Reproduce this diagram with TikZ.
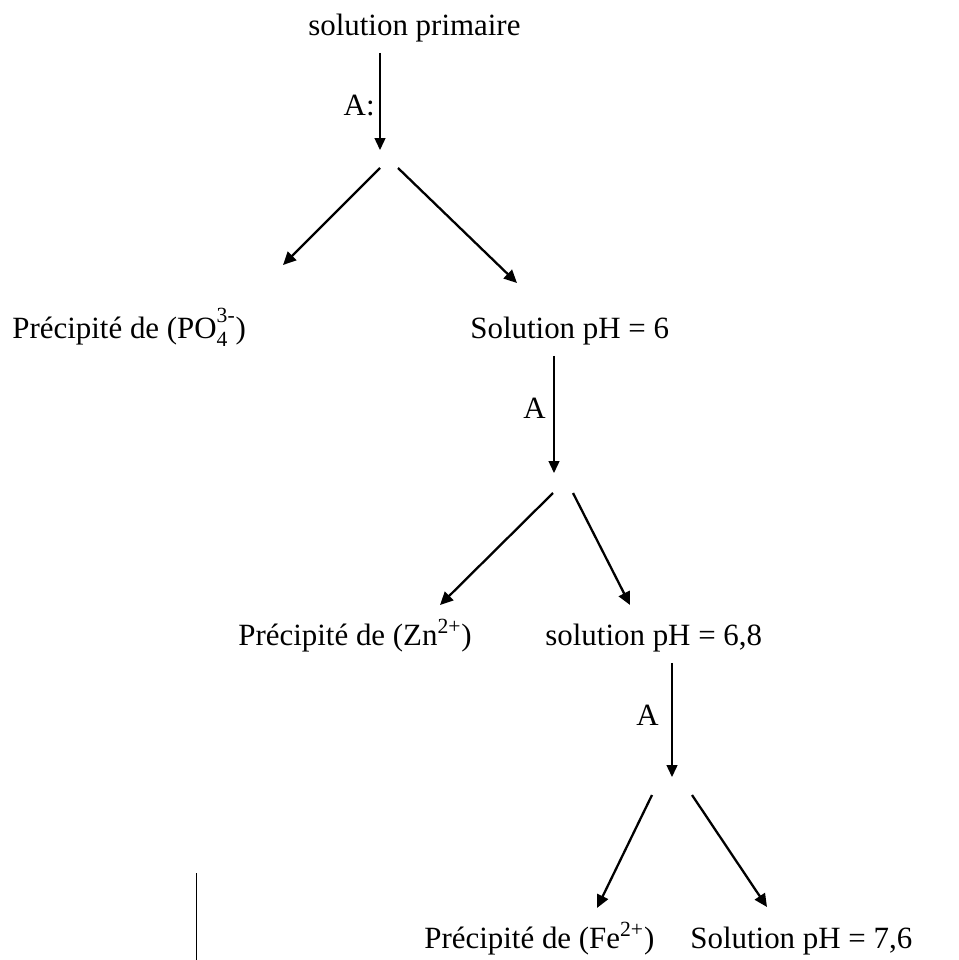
\documentclass[tikz,border=0pt]{standalone}
\usepackage{fontspec}
\setmainfont{Liberation Serif}
\usepackage{tikz}
\usetikzlibrary{arrows.meta}

\newcommand{\ionchg}[2]{\rlap{\raisebox{-0.25ex}{\textsubscript{#1}}}\raisebox{0.35ex}{\textsuperscript{#2}}}

\begin{document}
\begin{tikzpicture}[
    x=0.02cm, y=-0.02cm,
    txt/.style    = {inner sep=0pt, anchor=base west,
                     font=\fontsize{17.6}{21}\selectfont},
    reag/.style   = {inner sep=0pt, anchor=base east,
                     font=\fontsize{17.6}{21}\selectfont},
    down/.style   = {-{Triangle[length=0.24cm, width=0.22cm]}, line width=0.8pt,
                     shorten <=0.22cm},
    branch/.style = {-{Triangle[length=0.26cm, width=0.24cm]}, line width=1.3pt},
  ]
  \useasboundingbox (0,0) rectangle (959,960);

  % top: primary solution
  \node[txt] (sprim) at (308,35) {solution primaire};
  \coordinate (j1) at (380,150);
  \draw[down] (sprim.south -| j1) -- (j1);
  \node[reag] (rA1) at (375,115) {A:};
  \coordinate (v1l) at (380,168);
  \coordinate (v1r) at (398,168);
  \coordinate (t1l) at (283,265);
  \coordinate (t1r) at (517,283);
  \draw[branch] (v1l) -- (t1l);
  \draw[branch] (v1r) -- (t1r);

  % first split
  \node[txt] (prec1) at (12,338) {Précipité de (PO\ionchg{4}{3-})};
  \node[txt] (sol6) at (470,338) {Solution pH = 6};
  \coordinate (j2) at (554,473);
  \draw[down] (sol6.south -| j2) -- (j2);
  \node[reag] (rA2) at (546,418) {A};
  \coordinate (v2l) at (553,493);
  \coordinate (v2r) at (573,493);
  \coordinate (t2l) at (440,605);
  \coordinate (t2r) at (630,605);
  \draw[branch] (v2l) -- (t2l);
  \draw[branch] (v2r) -- (t2r);

  % second split
  \node[txt] (prec2) at (238,645) {Précipité de (Zn\textsuperscript{2+})};
  \node[txt] (sol68) at (545,645) {solution pH = 6,8};
  \coordinate (j3) at (672,777);
  \draw[down] (sol68.south -| j3) -- (j3);
  \node[reag] (rA3) at (659,725) {A};
  \coordinate (v3l) at (652,795);
  \coordinate (v3r) at (692,795);
  \coordinate (t3l) at (597,908);
  \coordinate (t3r) at (767,907);
  \draw[branch] (v3l) -- (t3l);
  \draw[branch] (v3r) -- (t3r);

  % third split
  \node[txt] (prec3) at (424,948) {Précipité de (Fe\textsuperscript{2+})};
  \node[txt] (sol76) at (690,948) {Solution pH = 7,6};

  % stray mark
  \coordinate (m1) at (196,873);
  \coordinate (m2) at (196,960);
  \draw[line width=0.5pt] (m1) -- (m2);
\end{tikzpicture}
\end{document}
